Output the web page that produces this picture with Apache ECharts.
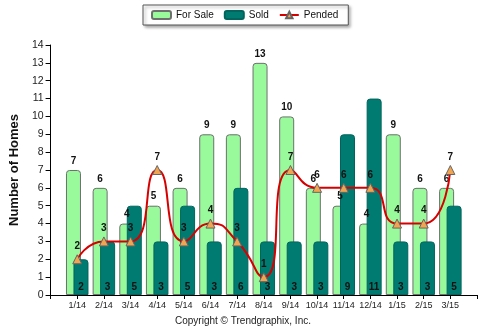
<!DOCTYPE html>
<html>
<head>
<meta charset="utf-8">
<script src="https://cdn.jsdelivr.net/npm/echarts@6/dist/echarts.min.js"></script>
<style>
  html, body { margin: 0; padding: 0; background: #fff; }
  #chart { width: 486px; height: 332px; }
</style>
</head>
<body>
<div id="chart"></div>
<script>
// Monthly home counts
const months = ['1/14', '2/14', '3/14', '4/14', '5/14', '6/14', '7/14', '8/14', '9/14', '10/14', '11/14', '12/14', '1/15', '2/15', '3/15'];
const forSale = [7, 6, 4, 5, 6, 9, 9, 13, 10, 6, 5, 4, 9, 6, 6];
const sold = [2, 3, 5, 3, 5, 3, 6, 3, 3, 3, 9, 11, 3, 3, 5];
const pended = [2, 3, 3, 7, 3, 4, 3, 1, 7, 6, 6, 6, 4, 4, 7];

// Empty slots at both ends keep the months off the axis edges
const pad = arr => [null, ...arr, null];
const cats = ['', ...months, ''];

const font = 'Liberation Sans, Arial, sans-serif';
const chart = echarts.init(document.getElementById('chart'));

chart.setOption({
  animation: false,
  textStyle: { fontFamily: font },
  grid: { left: 43, right: 9, top: 45, bottom: 37 },
  legend: {
    left: 143, top: 5,
    padding: [5, 10, 5, 8],
    itemGap: 10,
    itemWidth: 19, itemHeight: 8,
    borderColor: '#555', borderWidth: 1,
    backgroundColor: '#fff',
    shadowColor: 'rgba(0,0,0,0.35)', shadowBlur: 3, shadowOffsetX: 2, shadowOffsetY: 2,
    textStyle: { fontSize: 10, color: '#111', fontFamily: font },
    data: ['For Sale', 'Sold', 'Pended']
  },
  xAxis: {
    type: 'category',
    data: cats,
    boundaryGap: false,
    axisLine: { lineStyle: { color: '#000', width: 1 } },
    axisTick: { length: 4, lineStyle: { color: '#000' } },
    axisLabel: { fontSize: 9, color: '#222', margin: 6, interval: 0 }
  },
  yAxis: {
    type: 'value',
    min: 0, max: 14, interval: 1,
    name: 'Number of Homes',
    nameLocation: 'middle',
    nameGap: 26,
    nameTextStyle: { fontSize: 13, fontWeight: 'bold', color: '#111' },
    axisLine: { show: true, lineStyle: { color: '#000', width: 1 } },
    axisTick: { show: true, length: 5, lineStyle: { color: '#000' } },
    axisLabel: { fontSize: 10.5, color: '#222', margin: 7 },
    splitLine: { show: false }
  },
  series: [
    {
      name: 'For Sale',
      type: 'bar',
      data: pad(forSale),
      barWidth: 15,
      barGap: '-50%',
      itemStyle: { color: '#99fa9c', borderColor: '#6f6f6f', borderWidth: 1, borderRadius: [3, 3, 0, 0] },
      label: { show: true, position: 'top', distance: 4, fontSize: 10, fontWeight: 'bold', color: '#111' }
    },
    {
      name: 'Sold',
      type: 'bar',
      data: pad(sold),
      barWidth: 15,
      itemStyle: { color: '#007b72', borderColor: '#00655d', borderWidth: 1, borderRadius: [3, 3, 0, 0] },
      label: { show: true, position: 'insideBottom', distance: 3, fontSize: 10, fontWeight: 'bold', color: '#111' }
    },
    {
      name: 'Pended',
      type: 'line',
      data: pad(pended),
      smooth: 0.6,
      connectNulls: false,
      symbol: 'triangle',
      symbolSize: 9,
      z: 5,
      lineStyle: { color: '#d60000', width: 2 },
      itemStyle: { color: '#f2a550', borderColor: '#666', borderWidth: 1 },
      label: { show: true, position: 'top', distance: 3, fontSize: 10, fontWeight: 'bold', color: '#111' }
    }
  ],
  graphic: [
    {
      type: 'text',
      left: 'center', top: 316,
      style: { text: 'Copyright \u00A9 Trendgraphix, Inc.', fontSize: 10, fill: '#222', fontFamily: font }
    }
  ]
});
</script>
</body>
</html>
